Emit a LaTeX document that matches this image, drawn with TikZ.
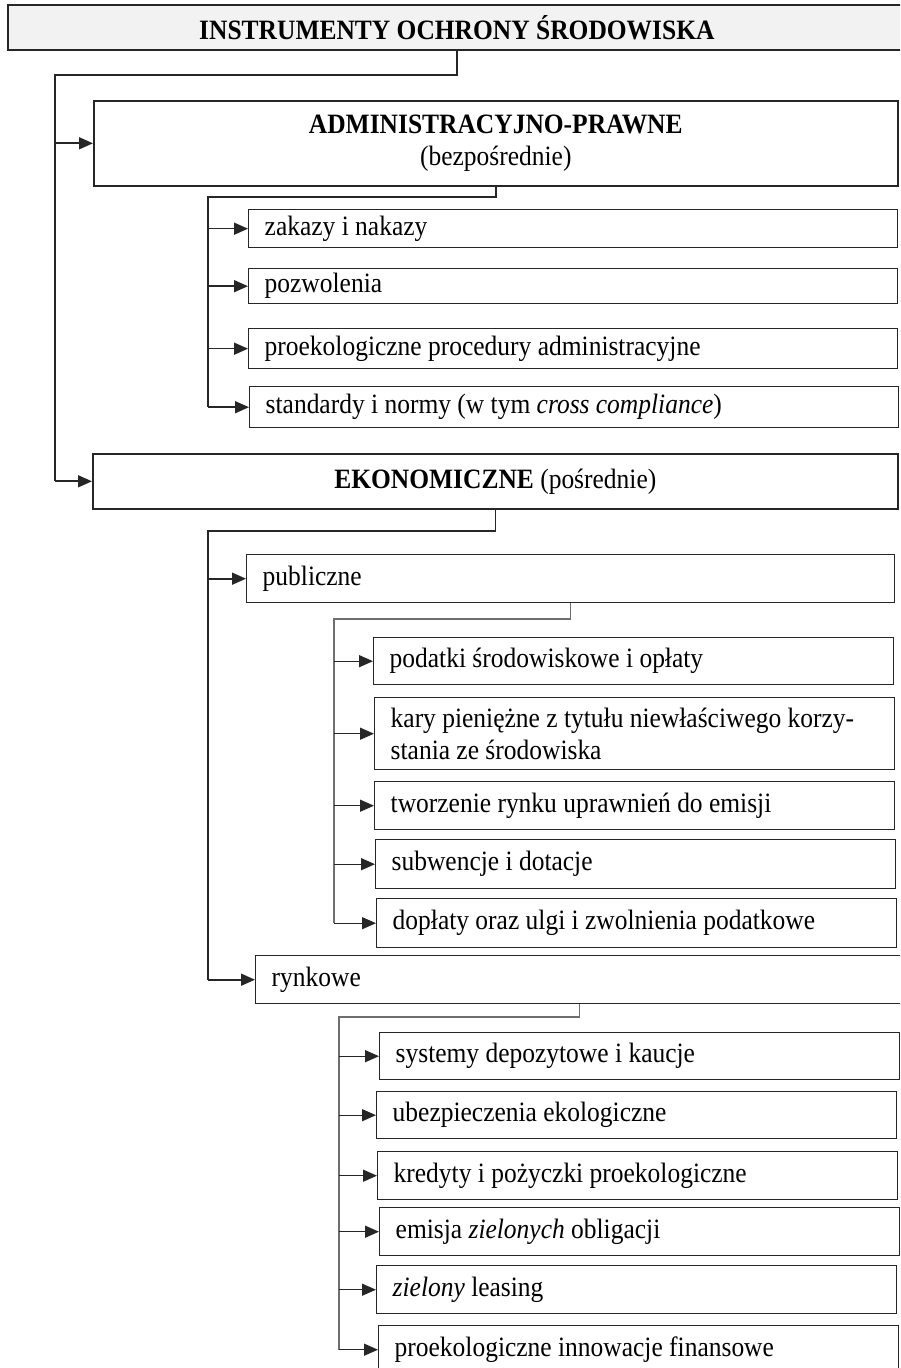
\documentclass[tikz,border=0pt]{standalone}
\usepackage{fontspec}
\setmainfont{Liberation Serif}[FakeStretch=0.91]
\usepackage{tikz}
\usetikzlibrary{arrows.meta}
\definecolor{linedark}{HTML}{262626}
\definecolor{linesub}{HTML}{6E6E6E}
\definecolor{headfill}{HTML}{F2F2F2}
\newcommand{\boxfont}{\fontsize{14pt}{16pt}\selectfont}
\tikzset{
  head/.style={rectangle, draw=linedark, line width=0.9pt, fill=headfill, anchor=north west, inner sep=0pt, font=\boxfont\bfseries},
  group/.style={rectangle, draw=linedark, line width=0.8pt, anchor=north west, inner sep=0pt, align=center, font=\boxfont},
  leaf/.style={rectangle, draw=linedark, line width=0.7pt, anchor=north west, inner xsep=8pt, inner ysep=0pt, align=flush left, text width=#1, font=\boxfont},
  leaf/.default=244pt,
  link/.style={draw=linedark, line width=0.8pt},
  sublink/.style={draw=linesub, line width=0.7pt},
  arrow/.style={link, -{Triangle[length=7pt,width=6pt]}},
  subarrow/.style={draw=linedark, line width=0.7pt, -{Triangle[length=7pt,width=6pt]}}
}

\begin{document}
\begin{tikzpicture}[x=0.5pt, y=-0.5pt]
    \useasboundingbox (0,0) rectangle (900,1368);
    \clip (0,0) rectangle (900,1368);

    % main heading and the two groups
    \node[head, minimum width=449pt, minimum height=22.5pt] (title) at (7,4) {INSTRUMENTY OCHRONY ŚRODOWISKA};
    \node[group, minimum width=402pt, minimum height=42.5pt] (admin) at (93,100) {\textbf{ADMINISTRACYJNO-PRAWNE}\\(bezpośrednie)};
    \node[group, minimum width=402.5pt, minimum height=27.5pt] (ekon) at (92,453) {\textbf{EKONOMICZNE} (pośrednie)};

    % administrative instruments
    \node[leaf=308.5pt, minimum height=19pt] (zakazy) at (248,209) {zakazy i nakazy};
    \node[leaf=308.5pt, minimum height=17.5pt] (pozw) at (248,268) {pozwolenia};
    \node[leaf=308.5pt, minimum height=20pt] (proek) at (248,328) {proekologiczne procedury administracyjne};
    \node[leaf=308.5pt, minimum height=20.5pt] (stand) at (249,386) {standardy i normy (w tym \textit{cross compliance})};

    % economic instruments
    \node[leaf=308pt, minimum height=24pt] (publ) at (246,554) {publiczne};
    \node[leaf=308pt, minimum height=24pt] (rynk) at (255,955) {rynkowe};

    \node[leaf, minimum height=23.5pt] (podatki) at (373,637) {podatki środowiskowe i opłaty};
    \node[leaf, minimum height=36pt] (kary) at (374,697) {kary pieniężne z tytułu niewłaściwego korzy-\\stania ze środowiska};
    \node[leaf, minimum height=24pt] (tworz) at (374,781) {tworzenie rynku uprawnień do emisji};
    \node[leaf, minimum height=24.5pt] (subw) at (375,839) {subwencje i dotacje};
    \node[leaf, minimum height=24.5pt] (dopl) at (376,898) {dopłaty oraz ulgi i zwolnienia podatkowe};

    \node[leaf, minimum height=23.5pt] (syst) at (379,1032) {systemy depozytowe i kaucje};
    \node[leaf, minimum height=23.5pt] (ubezp) at (376,1091) {ubezpieczenia ekologiczne};
    \node[leaf, minimum height=24pt] (kred) at (377,1151) {kredyty i pożyczki proekologiczne};
    \node[leaf, minimum height=24pt] (emis) at (379,1207) {emisja \textit{zielonych} obligacji};
    \node[leaf, minimum height=24pt] (leas) at (376,1265) {\textit{zielony} leasing};
    \node[leaf, minimum height=24pt] (innow) at (378,1325) {proekologiczne innowacje finansowe};

    % buses
    \coordinate (trunk) at (55,75);
    \coordinate (adm-bus) at (208,197);
    \coordinate (eko-bus) at (208,531);
    \coordinate (pub-bus) at (334,619);
    \coordinate (ryn-bus) at (339,1017);

    \draw[link] (title.south) |- (trunk) -- (trunk |- ekon.west);
    \draw[arrow] (trunk |- admin.west) -- (admin.west);
    \draw[arrow] (trunk |- ekon.west) -- (ekon.west);

    \draw[link] (admin.south) |- (adm-bus) -- (adm-bus |- stand.west);
    \foreach \n in {zakazy,pozw,proek,stand}
        \draw[arrow] (adm-bus |- \n.west) -- (\n.west);

    \draw[link] (ekon.south) |- (eko-bus) -- (eko-bus |- rynk.west);
    \foreach \n in {publ,rynk}
        \draw[arrow] (eko-bus |- \n.west) -- (\n.west);

    \draw[sublink] (publ.south) |- (pub-bus) -- (pub-bus |- dopl.west);
    \foreach \n in {podatki,kary,tworz,subw,dopl}
        \draw[subarrow] (pub-bus |- \n.west) -- (\n.west);

    \draw[sublink] (rynk.south) |- (ryn-bus) -- (ryn-bus |- innow.west);
    \foreach \n in {syst,ubezp,kred,emis,leas,innow}
        \draw[subarrow] (ryn-bus |- \n.west) -- (\n.west);
\end{tikzpicture}
\end{document}
